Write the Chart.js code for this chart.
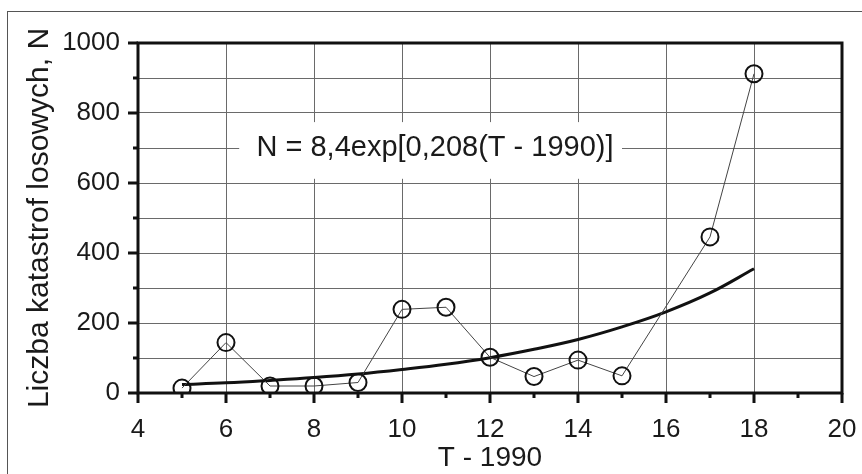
<!DOCTYPE html>
<html>
<head>
<meta charset="utf-8">
<script src="https://cdn.jsdelivr.net/npm/chart.js@4"></script>
<style>
  body { margin: 0; background: #fff; }
  #wrap { width: 862px; height: 474px; position: relative; }
</style>
</head>
<body>
<div id="wrap"><canvas id="chart" width="862" height="474"></canvas></div>
<script>
// --- dane ---
const years = [5, 6, 7, 8, 9, 10, 11, 12, 13, 14, 15, 17, 18];
const counts = [14, 144, 20, 20, 30, 239, 245, 102, 47, 94, 49, 446, 912];

// krzywa dopasowania (odczyt z rysunku)
const fitYears = [5, 6, 7, 8, 9, 10, 11, 12, 13, 14, 15, 16, 17, 18];
const fitCounts = [24, 29, 36, 44, 54, 67, 82, 101, 125, 153, 189, 232, 286, 355];

const xLabels = ['4', '6', '8', '10', '12', '14', '16', '18', '20'];
const yLabels = ['0', '200', '400', '600', '800', '1000'];

const noteText = 'N = 8,4exp[0,208(T - 1990)]';
const noteCenter = [10.75, 700];
const noteBox = [6.3, 15.0, 612, 774];

const FONT = '"Liberation Sans", Arial, sans-serif';

// ramka, znaczniki osi i opis wzoru
const framePlugin = {
    id: 'frame',
    beforeDraw(chart) {
        const ctx = chart.ctx;
        ctx.save();
        ctx.strokeStyle = '#555';
        ctx.lineWidth = 1;
        ctx.strokeRect(7.5, 11.5, chart.width + 20, chart.height + 20);
        ctx.restore();
    },
    beforeDatasetsDraw(chart) {
        const ctx = chart.ctx;
        const a = chart.chartArea;
        const xs = chart.scales.x, ys = chart.scales.y;
        ctx.save();

        // biała ramka pod wzorem
        const l = xs.getPixelForValue(noteBox[0]), r = xs.getPixelForValue(noteBox[1]);
        const b = ys.getPixelForValue(noteBox[2]), t = ys.getPixelForValue(noteBox[3]);
        ctx.fillStyle = '#fff';
        ctx.fillRect(l, t, r - l, b - t);
        ctx.fillStyle = '#1a1a1a';
        ctx.font = '29px ' + FONT;
        ctx.textAlign = 'center';
        ctx.textBaseline = 'middle';
        ctx.fillText(noteText, xs.getPixelForValue(noteCenter[0]), ys.getPixelForValue(noteCenter[1]));

        // znaczniki
        ctx.strokeStyle = '#111';
        ctx.lineWidth = 3;
        ctx.beginPath();
        xs.ticks.forEach(tk => {
            const px = xs.getPixelForValue(tk.value);
            const len = tk.value % 2 === 0 ? 10 : 5;
            ctx.moveTo(px, a.bottom);
            ctx.lineTo(px, a.bottom + len);
        });
        ys.ticks.forEach(tk => {
            const py = ys.getPixelForValue(tk.value);
            const len = tk.value % 200 === 0 ? 10 : 5;
            ctx.moveTo(a.left, py);
            ctx.lineTo(a.left - len, py);
        });
        ctx.stroke();

        // obramowanie obszaru wykresu
        ctx.strokeRect(a.left, a.top, a.right - a.left, a.bottom - a.top);
        ctx.restore();
    }
};

new Chart(document.getElementById('chart'), {
    type: 'scatter',
    data: {
        datasets: [
            {
                label: 'dopasowanie',
                data: fitYears.map((x, i) => ({ x: x, y: fitCounts[i] })),
                showLine: true,
                borderColor: '#111',
                borderWidth: 3,
                pointRadius: 0,
                tension: 0.4,
                order: 2
            },
            {
                label: 'N',
                data: years.map((x, i) => ({ x: x, y: counts[i] })),
                showLine: true,
                borderColor: '#444',
                borderWidth: 1,
                pointRadius: 8.5,
                pointBorderWidth: 2,
                pointBorderColor: '#111',
                pointBackgroundColor: 'rgba(0,0,0,0)',
                tension: 0,
                order: 1
            }
        ]
    },
    options: {
        responsive: false,
        animation: false,
        layout: { padding: { top: 43, right: 20, left: 0, bottom: 0 } },
        plugins: { legend: { display: false }, tooltip: { enabled: false } },
        scales: {
            x: {
                type: 'linear',
                min: 4,
                max: 20,
                afterFit: s => { s.height = 81; s.paddingLeft = 0; s.paddingRight = 0; },
                border: { display: false },
                grid: {
                    color: ctx => (ctx.tick && ctx.tick.value % 2 === 0) ? '#6a6a6a' : 'rgba(0,0,0,0)',
                    lineWidth: 1,
                    tickLength: 10,
                    tickColor: 'rgba(0,0,0,0)'
                },
                ticks: {
                    stepSize: 1,
                    autoSkip: false,
                    maxRotation: 0,
                    padding: 11,
                    color: '#1a1a1a',
                    font: { family: FONT, size: 26 },
                    callback: v => xLabels.includes(String(v)) ? String(v) : ''
                },
                title: {
                    display: true,
                    text: 'T - 1990',
                    color: '#1a1a1a',
                    font: { family: FONT, size: 28, lineHeight: 1 },
                    padding: { top: 0, bottom: 2 }
                }
            },
            y: {
                min: 0,
                max: 1000,
                afterFit: s => { s.width = 138; s.paddingTop = 0; s.paddingBottom = 0; },
                border: { display: false },
                grid: {
                    color: '#6a6a6a',
                    lineWidth: 1,
                    tickLength: 10,
                    tickColor: 'rgba(0,0,0,0)'
                },
                ticks: {
                    stepSize: 100,
                    autoSkip: false,
                    padding: 8,
                    color: '#1a1a1a',
                    font: { family: FONT, size: 26 },
                    callback: v => yLabels.includes(String(v)) ? String(v) : ''
                },
                title: {
                    display: true,
                    text: 'Liczba katastrof losowych, N',
                    color: '#1a1a1a',
                    font: { family: FONT, size: 30, lineHeight: 1 },
                    padding: { top: 25, bottom: 0 }
                }
            }
        }
    },
    plugins: [framePlugin]
});
</script>
</body>
</html>
